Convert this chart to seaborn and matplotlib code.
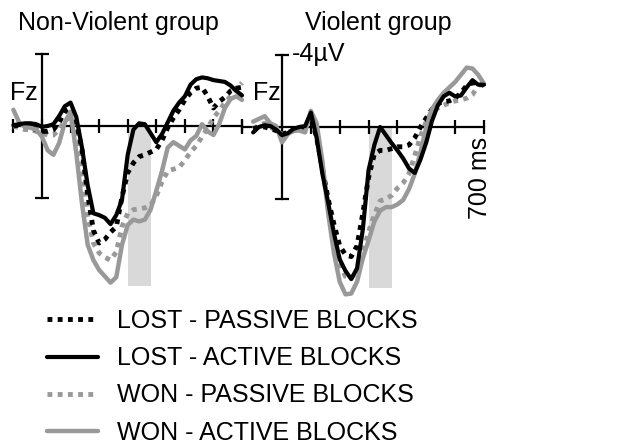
import matplotlib
matplotlib.use("Agg")
import matplotlib.pyplot as plt
import seaborn as sns

# ---------------- data (amplitude in µV, negative plotted upward) ----------------
TIME_MS = [-100, -80, -60, -40, -20, 0, 20, 40, 60, 80, 100, 120, 140, 160, 180, 200,
           220, 240, 260, 280, 300, 320, 340, 360, 380, 400, 420, 440, 460, 480, 500,
           520, 540, 560, 580, 600, 620, 640, 660, 680, 700]

# Non-Violent group
nv_lost_passive = [0.0, -0.05, 0.0, 0.1, 0.2, 0.3, 0.3, 0.2, -0.2, -0.8, -1.0, -0.2, 1.3, 3.8,
                   5.8, 6.5, 6.3, 5.9, 5.6, 3.95, 2.6, 2.05, 1.7, 1.6, 1.45, 1.3, 0.8, 0.1,
                   -0.45, -0.9, -1.45, -1.85, -2.1, -2.15, -1.65, -1.0, -1.35, -1.6, -1.95,
                   -2.1, -2.15]
nv_lost_active = [-0.05, -0.1, -0.15, -0.15, -0.1, 0.05, 0.0, -0.1, -0.55, -1.1, -1.3, -0.5,
                  1.2, 3.3, 4.85, 4.95, 5.1, 5.45, 4.95, 4.1, 1.6, 0.2, -0.15, -0.1, 0.4, 0.9,
                  0.45, -0.2, -0.85, -1.3, -1.65, -2.3, -2.6, -2.7, -2.65, -2.55, -2.5, -2.45,
                  -2.25, -1.95, -1.7]
nv_won_passive = [0.0, 0.1, 0.2, 0.2, 0.3, 0.4, 0.5, 0.5, 0.2, -0.3, -0.5, 0.5, 2.5, 5.0, 6.5,
                  7.05, 7.3, 7.45, 7.0, 5.6, 4.85, 4.65, 4.6, 4.55, 4.4, 3.9, 3.1, 2.5, 2.4,
                  2.3, 1.9, 1.45, 1.1, 0.6, 0.1, -0.45, -0.85, -1.3, -1.65, -2.05, -2.4]
nv_won_active = [-0.9, -0.2, 0.05, 0.1, 0.2, 0.6, 1.35, 1.6, 0.95, -0.2, -0.8, 1.5, 4.3, 6.6,
                 7.45, 8.0, 8.35, 8.7, 8.4, 6.6, 5.5, 5.2, 5.3, 5.2, 4.65, 3.6, 2.5, 1.2, 0.9,
                 1.1, 1.3, 0.8, 0.55, -0.1, 0.3, 0.5, -0.1, -1.0, -1.5, -1.65, -1.45]

# Violent group
v_lost_passive = [0.1, 0.0, 0.0, 0.1, 0.2, 0.4, 0.3, 0.2, 0.1, 0.0, -0.6, 0.6, 2.3, 4.0, 5.4,
                  6.6, 7.1, 7.2, 6.6, 4.8, 2.8, 1.5, 1.3, 1.3, 1.2, 1.1, 1.1, 1.0, 0.6, 0.0,
                  -0.5, -1.0, -1.3, -1.4, -1.45, -1.6, -1.9, -2.3, -2.45, -2.45, -2.3]
v_lost_active = [0.3, 0.0, -0.1, -0.05, 0.15, 0.45, 0.35, 0.1, 0.0, -0.05, -0.8, 0.6, 2.6,
                 4.2, 5.9, 7.35, 8.0, 8.45, 7.85, 5.7, 2.4, 1.0, 0.0, 0.45, 0.9, 1.3, 1.75,
                 2.3, 2.55, 1.8, 0.85, -0.35, -1.2, -1.7, -1.9, -1.7, -1.75, -2.2, -2.6,
                 -2.35, -2.35]
v_won_passive = [0.1, -0.1, -0.2, 0.0, 0.2, 0.4, 0.3, 0.2, 0.2, 0.1, -0.7, 0.3, 2.2, 4.5, 6.3,
                 7.6, 8.3, 8.4, 8.0, 7.0, 5.8, 4.9, 4.1, 4.0, 3.8, 3.4, 3.1, 2.6, 1.6, 0.5,
                 -0.3, -0.9, -1.05, -1.2, -1.35, -1.45, -1.5, -1.6, -1.8, -2.3, -2.4]
v_won_active = [-0.3, -0.45, -0.6, -0.2, -0.05, 0.85, 0.4, 0.2, 0.2, 0.3, -0.9, -0.2, 1.9, 4.8,
                7.0, 8.6, 9.3, 9.25, 8.6, 7.3, 6.3, 5.25, 4.65, 4.45, 4.45, 4.3, 4.05, 3.45,
                2.6, 1.4, 0.0, -1.0, -1.5, -1.9, -2.2, -2.5, -2.9, -3.3, -3.25, -2.9, -2.4]

CONDITIONS = ["LOST - PASSIVE BLOCKS", "LOST - ACTIVE BLOCKS",
              "WON - PASSIVE BLOCKS", "WON - ACTIVE BLOCKS"]
PANEL_TITLES = ["Non-Violent group", "Violent group"]
SHADE_WINDOW_MS = [300, 380]
SHADE_DEPTH = [8.9, 8.95]
SCALE_UV = [-4, 4]
X_TICKS_LEFT = [-100, 0, 100, 200, 300, 400, 500, 600, 700]
X_TICKS_RIGHT = [-140, 0, 100, 200, 300, 400, 500, 600, 700]

# ---------------- style ----------------
sns.set_style("white")
plt.rcParams["font.family"] = ["Liberation Sans", "DejaVu Sans"]
plt.rcParams["text.color"] = "black"

BLACK = "#000000"
GREY = "#999999"
LINE_STYLE = {
    "LOST - PASSIVE BLOCKS": dict(color=BLACK, linestyle=(0, (1, 1.1)), linewidth=3.5),
    "LOST - ACTIVE BLOCKS": dict(color=BLACK, linestyle="-", linewidth=3.0),
    "WON - PASSIVE BLOCKS": dict(color=GREY, linestyle=(0, (1, 1.1)), linewidth=3.5),
    "WON - ACTIVE BLOCKS": dict(color=GREY, linestyle="-", linewidth=3.2),
}
DRAW_ORDER = ["WON - PASSIVE BLOCKS", "LOST - PASSIVE BLOCKS",
              "WON - ACTIVE BLOCKS", "LOST - ACTIVE BLOCKS"]

W, H = 642, 444
fig = plt.figure(figsize=(W / 100, H / 100), dpi=100)
ax_l = fig.add_axes([13.4 / W, 1 - 306 / H, 228.6 / W, 270 / H])
ax_r = fig.add_axes([241.6 / W, 1 - 307 / H, 242.4 / W, 270 / H])

panels = [
    (ax_l, {"LOST - PASSIVE BLOCKS": nv_lost_passive, "LOST - ACTIVE BLOCKS": nv_lost_active,
            "WON - PASSIVE BLOCKS": nv_won_passive, "WON - ACTIVE BLOCKS": nv_won_active},
     X_TICKS_LEFT, SHADE_DEPTH[0]),
    (ax_r, {"LOST - PASSIVE BLOCKS": v_lost_passive, "LOST - ACTIVE BLOCKS": v_lost_active,
            "WON - PASSIVE BLOCKS": v_won_passive, "WON - ACTIVE BLOCKS": v_won_active},
     X_TICKS_RIGHT, SHADE_DEPTH[1]),
]

handles = {}
for ax, series, xticks, depth in panels:
    ax.set_facecolor("none")
    ax.fill_between(SHADE_WINDOW_MS, 0, depth, color="#d9d9d9", linewidth=0, zorder=0)
    for cond in DRAW_ORDER:
        sns.lineplot(x=TIME_MS, y=series[cond], ax=ax, legend=False,
                     solid_capstyle="round", **LINE_STYLE[cond])
        line = ax.get_lines()[-1]
        line.set_clip_on(False)
        line.set_zorder(3)
        handles[cond] = line
    ax.set_xlim(xticks[0], 700)
    ax.set_ylim(10, -5)
    for s in ["top", "right"]:
        ax.spines[s].set_visible(False)
    ax.spines["left"].set_position(("data", 0))
    ax.spines["left"].set_bounds(SCALE_UV[0], SCALE_UV[1])
    ax.spines["bottom"].set_position(("data", 0))
    ax.spines["bottom"].set_bounds(xticks[0], 700)
    for s in ["left", "bottom"]:
        ax.spines[s].set_visible(True)
        ax.spines[s].set_linewidth(1.6)
        ax.spines[s].set_color("black")
        ax.spines[s].set_zorder(2)
    ax.set_yticks(SCALE_UV)
    ax.set_xticks(xticks)
    ax.set_yticklabels([])
    ax.set_xticklabels([])
    ax.tick_params(axis="both", which="major", direction="inout", length=10, width=1.6,
                   color="black", bottom=True, left=True, top=False, right=False)
    ax.set_xlabel("")
    ax.set_ylabel("")

FS = 18
fig.text(18 / W, 1 - 30 / H, PANEL_TITLES[0], fontsize=FS, va="baseline", ha="left")
fig.text(305 / W, 1 - 30 / H, PANEL_TITLES[1], fontsize=FS, va="baseline", ha="left")
fig.text(10 / W, 1 - 100 / H, "Fz", fontsize=FS, va="baseline", ha="left")
fig.text(253 / W, 1 - 100 / H, "Fz", fontsize=FS, va="baseline", ha="left")
fig.text(292 / W, 1 - 61 / H, "-4µV", fontsize=FS, va="baseline", ha="left")
fig.text(480 / W, 1 - 178 / H, "700 ms", fontsize=FS, rotation=90, va="center", ha="center")

fig.legend([handles[c] for c in CONDITIONS], CONDITIONS, loc="upper left",
           bbox_to_anchor=(47 / W, 1 - 309 / H), frameon=False, fontsize=FS,
           labelcolor="black", handlelength=2.05, handletextpad=0.75, labelspacing=0.53,
           borderpad=0, borderaxespad=0)

fig.savefig("out.png", dpi=100)
